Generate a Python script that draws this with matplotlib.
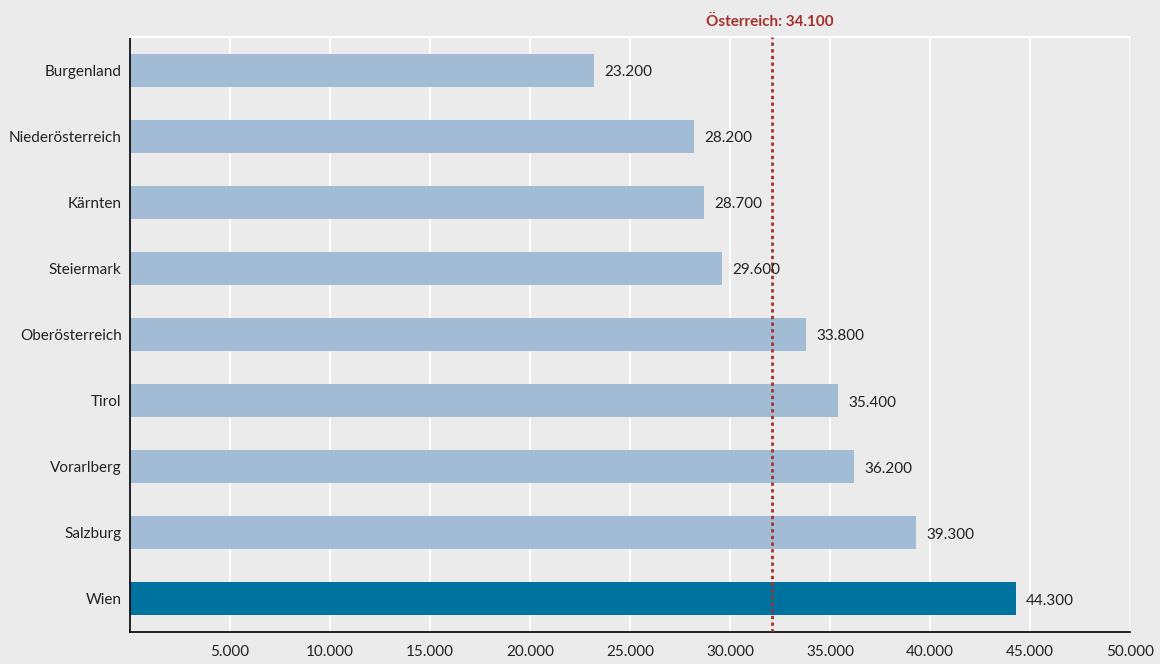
import matplotlib.pyplot as plt
import numpy as np

plt.rcParams['font.family'] = ['Lato', 'DejaVu Sans']

regions = ["Burgenland", "Niederösterreich", "Kärnten", "Steiermark", "Oberösterreich",
           "Tirol", "Vorarlberg", "Salzburg", "Wien"]
values = [23200, 28200, 28700, 29600, 33800, 35400, 36200, 39300, 44300]
# line is drawn at ~32.100 in the reference although the label says 34.100
oesterreich_line = 32100
oesterreich_label = "Österreich: 34.100"
xticks = [5000, 10000, 15000, 20000, 25000, 30000, 35000, 40000, 45000, 50000]

def fmt(v):
    return f"{v:,}".replace(",", ".")

bg = "#ebebeb"
fig = plt.figure(figsize=(11.6, 6.64), dpi=100, facecolor=bg)
ax = fig.add_axes([130 / 1160, 1 - 632 / 664, 1000 / 1160, 595 / 664])
ax.set_facecolor(bg)

y = np.arange(len(regions))
colors = ["#a3bcd5"] * (len(regions) - 1) + ["#00729f"]
ax.barh(y, values, height=0.5, color=colors, zorder=2)

for yi, v in zip(y, values):
    ax.text(v + 500, yi + 0.03, fmt(v), va="center", ha="left", fontsize=11, color="#222222", zorder=4)

ax.set_xlim(0, 50000)
ax.set_ylim(len(regions) - 0.5, -0.5)
ax.set_xticks(xticks)
ax.set_xticklabels([fmt(t) for t in xticks], fontsize=11, color="#222222")
ax.set_yticks(y)
ax.set_yticklabels(regions, fontsize=11, color="#222222")
ax.tick_params(length=0, pad=9)
ax.tick_params(axis="y", pad=6)

ax.grid(axis="x", color="white", linewidth=1.3, zorder=0)
ax.set_axisbelow(True)

ax.axvline(oesterreich_line, color="#a3322c", linestyle=(0, (1.2, 1.2)), linewidth=2, zorder=3)
ax.text(oesterreich_line - 120, -0.62, oesterreich_label, ha="center", va="bottom", fontsize=11,
        fontweight="bold", color="#a3322c")

ax.spines["right"].set_visible(False)
ax.spines["top"].set_color("white")
ax.spines["top"].set_linewidth(1.5)
ax.spines["left"].set_color("black")
ax.spines["bottom"].set_color("black")
ax.spines["left"].set_linewidth(1.2)
ax.spines["bottom"].set_linewidth(1.2)

fig.savefig("out.png", dpi=100, facecolor=bg)
